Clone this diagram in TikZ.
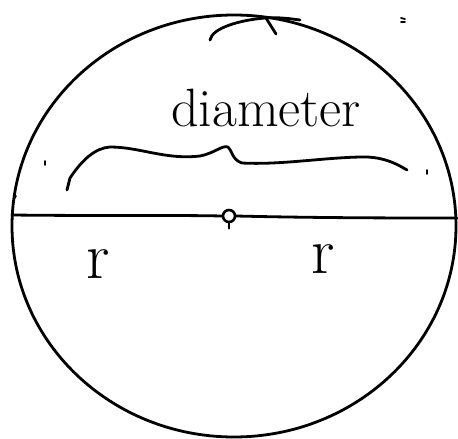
\documentclass[tikz,border=0pt]{standalone}
\usetikzlibrary{calc}
\begin{document}
\begin{tikzpicture}[x=1pt,y=-1pt,
  ink/.style={line width=2.8pt,line cap=round,line join=round,black},
  speck/.style={line width=1.8pt,line cap=round,black},
  word/.style={inner sep=0pt,anchor=base,font=\fontsize{54}{56}\selectfont},
  rlabel/.style={inner sep=0pt,anchor=base,font=\fontsize{66}{68}\selectfont}]
\useasboundingbox (0,0) rectangle (458,439);
% circle
\draw[ink] (234,226) ellipse [x radius=222, y radius=211];
% diameter line
\coordinate (dl) at (12,215);
\coordinate (dr) at (457,218);
\node[circle,draw,line width=2.6pt,fill=white,minimum size=12pt,inner sep=0pt] (ctr) at (229,216) {};
\draw[ink] (dl) .. controls (100,216) and (180,215) .. (ctr.west);
\draw[ink] (ctr.east) .. controls (320,218) and (400,218) .. (dr);
\draw[ink] (ctr.south) -- ++(0,5);
% label diameter
\node[word] (dtext) at (266,126) {diameter};
% hand brace
\draw[ink] (67,190) -- (70,178)
  .. controls (82,160) and (95,148) .. (110,147)
  .. controls (140,147) and (165,160) .. (200,156)
  .. controls (215,153) and (222,145) .. (228,147)
  .. controls (232,150) and (232,160) .. (242,163)
  .. controls (280,165) and (320,158) .. (360,157)
  .. controls (385,156) and (400,166) .. (407,170);
% top arc scribble
\draw[ink] (210,40) .. controls (212,28) and (240,20) .. (265,18)
  .. controls (280,17) and (292,19) .. (300,20);
\draw[ink] (266,18) -- (276,34);
% specks
\draw[speck] (45,161) -- (45,165);
\draw[speck] (427,170) -- (427,174);
\draw[speck] (14,199) -- (16,196);
\draw[speck] (401,18) -- (405,19);
\draw[speck] (401,22) -- (405,22);
% radii labels
\node[rlabel] (rl) at (98,278) {r};
\node[rlabel] (rr) at (323,273) {r};
\end{tikzpicture}
\end{document}
